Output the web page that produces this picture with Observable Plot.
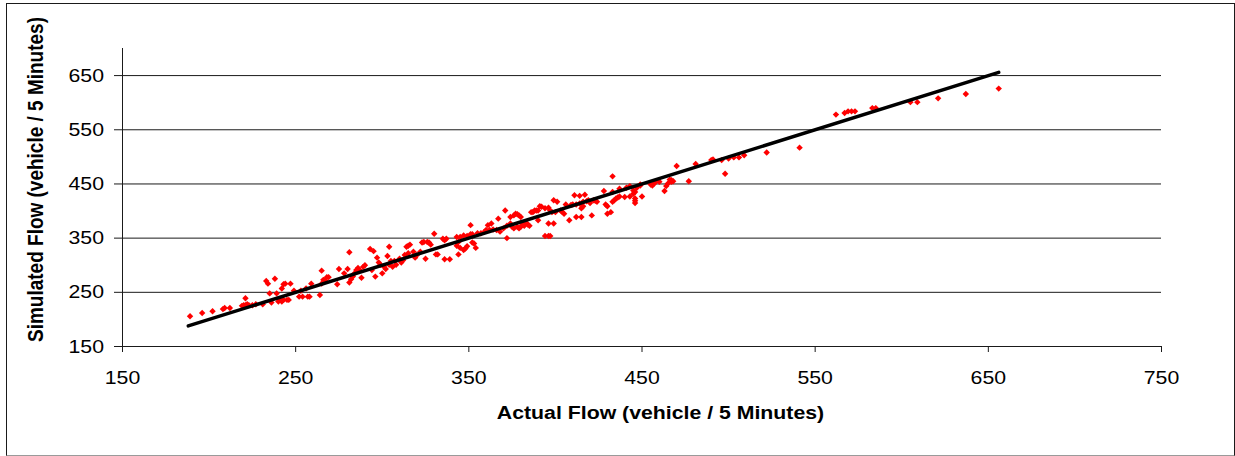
<!DOCTYPE html>
<html>
<head>
<meta charset="utf-8">
<script src="https://cdn.jsdelivr.net/npm/d3@7"></script>
<script src="https://cdn.jsdelivr.net/npm/@observablehq/plot@0.6"></script>
<style>
  html, body { margin: 0; padding: 0; background: #fff; overflow: hidden; }
  #chart { position: relative; width: 1235px; height: 456px; }
  #chart svg { display: block; }
  #frame {
    position: absolute; left: 6px; top: 2.5px; width: 1228.5px; height: 453px;
    box-sizing: border-box; border: 1.5px solid #1a1a1a; border-bottom-color: #9a9a9a;
    pointer-events: none;
  }
</style>
</head>
<body>
<div id="chart"><div id="frame"></div></div>
<script>
// Observed 5-minute counts (vehicles) vs. simulated counts
const actualFlow = [
  189,196,202,208,209,212,219,220,221,222,223,221,225,227,231,233,234,238,235,236,
  239,240,241,242,243,245,246,242,243,244,247,249,252,254,257,258,253,256,259,264,
  265,266,268,269,
  265,267,274,275,278,280,281,281,282,283,284,285,286,287,288,289,290,293,295,294,
  296,297,298,299,300,301,302,303,304,304,305,306,307,308,310,311,312,313,314,315,
  316,315,318,319,320,322,323,324,326,327,328,325,330,331,332,335,336,337,336,339,
  343,344,344,
  343,345,347,348,349,345,347,349,351,352,353,354,351,352,355,357,359,360,362,361,
  363,364,366,368,367,371,372,370,372,374,374,376,377,378,379,380,375,376,378,379,
  380,381,382,383,384,385,386,387,388,389,390,390,391,392,394,396,397,396,399,398,
  400,399,401,403,404,405,406,408,409,410,411,412,412,414,414,415,415,416,417,418,
  419,394,396,397,
  416,415,421,420,422,423,424,428,429,430,430,432,433,434,435,436,437,433,433,437,
  440,441,443,443,445,446,445,446,446,446,447,449,450,449,455,456,457,458,460,463,
  464,465,466,467,467,468,470,477,
  481,490,491,496,498,500,503,506,509,522,541,562,567,569,571,573,583,585,605,609,
  621,637,656
];
const simulatedFlow = [
  206,212,215,219,221,221,225,226,226,228,226,239,226,228,228,271,266,275,248,231,
  248,233,236,233,236,236,236,257,265,266,266,253,242,242,242,242,253,257,266,245,
  290,273,278,278,
  266,272,265,293,285,293,324,268,274,279,285,291,295,291,277,297,300,330,326,291,
  279,314,305,301,285,297,293,317,334,301,308,297,308,301,312,305,309,319,334,336,
  338,322,325,314,319,325,342,343,343,342,338,312,358,320,320,349,346,349,311,311,
  352,343,320,
  336,332,328,331,335,352,355,354,374,342,340,332,357,357,359,359,362,365,365,374,
  377,366,365,362,386,401,350,368,373,377,389,392,395,394,392,389,371,368,371,368,
  371,375,373,379,375,373,398,398,401,401,401,383,409,408,405,406,401,377,377,398,
  398,420,417,401,398,395,412,383,411,412,429,412,389,414,428,389,414,417,430,418,
  420,354,354,354,
  409,405,392,415,420,419,417,437,412,409,395,398,417,420,423,425,427,464,435,441,
  426,443,446,427,438,435,432,423,419,415,443,447,427,449,449,447,451,454,454,437,
  446,451,458,457,454,455,483,455,
  487,494,495,494,469,497,499,499,503,508,517,578,581,584,584,584,590,590,601,601,
  608,616,626
];

// Equality line (simulated = actual) across the observed range
const fitX = [188, 656];
const fitY = [188, 656];

// Axis ticks and labels
const xTicks = [150, 250, 350, 450, 550, 650, 750];
const yTicks = [150, 250, 350, 450, 550, 650];
const yGrid = [250, 350, 450, 550, 650];
const xTitle = "Actual Flow (vehicle / 5 Minutes)";
const yTitle = "Simulated Flow (vehicle / 5 Minutes)";

const points = actualFlow.map((a, i) => ({actual: a, simulated: simulatedFlow[i]}));
const fit = fitX.map((x, i) => ({x, y: fitY[i]}));

const ink = "#1a1a1a";

const chart = Plot.plot({
  width: 1235,
  height: 456,
  marginLeft: 122,
  marginRight: 74,
  marginTop: 48,
  marginBottom: 110,
  style: {
    fontFamily: '"Liberation Sans", Arial, sans-serif',
    fontSize: "19px",
    color: "#000",
    background: "transparent",
    overflow: "visible"
  },
  x: {domain: [150, 750]},
  y: {domain: [150, 700]},
  marks: [
    Plot.ruleY(yGrid, {stroke: ink, strokeWidth: 1}),
    Plot.ruleX([150], {stroke: ink, strokeWidth: 1}),
    Plot.ruleY([150], {stroke: ink, strokeWidth: 1}),
    Plot.axisX(xTicks, {tickSize: 6, tickPadding: 18, label: null, stroke: ink, tickFormat: d => String(d)}),
    Plot.axisY(yTicks, {tickSize: 8, tickPadding: 10.5, label: null, stroke: ink, tickFormat: d => String(d)}),
    Plot.dot(points, {x: "actual", y: "simulated", symbol: "diamond2", r: 2.9, fill: "#ff0000"}),
    Plot.line(fit, {x: "x", y: "y", stroke: "#000", strokeWidth: 3.5}),
    Plot.text([xTitle], {
      text: d => d, frameAnchor: "bottom", textAnchor: "middle", lineAnchor: "middle",
      dx: 18.5, dy: 66, fontWeight: "bold", fill: "#000"
    }),
    Plot.text([yTitle], {
      text: d => d, frameAnchor: "left", textAnchor: "middle", lineAnchor: "middle",
      rotate: -90, dx: -86, dy: -18, fontWeight: "bold", fill: "#000"
    })
  ]
});

document.getElementById("chart").append(chart);

// Widen the lettering slightly, keeping each label anchored where it sits
const stretch = 1.12;
chart.querySelectorAll("text").forEach(t => {
  const tr = t.getAttribute("transform");
  if (tr) {
    t.setAttribute("transform", tr + (tr.includes("rotate") ? ` scale(1,${stretch})` : ` scale(${stretch},1)`));
  } else {
    const x = parseFloat(t.getAttribute("x"));
    const y = parseFloat(t.getAttribute("y"));
    if (!isNaN(x) && !isNaN(y) && !/em/.test(t.getAttribute("y"))) {
      t.removeAttribute("x");
      t.removeAttribute("y");
      t.setAttribute("transform", `translate(${x},${y}) scale(${stretch},1)`);
    }
  }
});
</script>
</body>
</html>
